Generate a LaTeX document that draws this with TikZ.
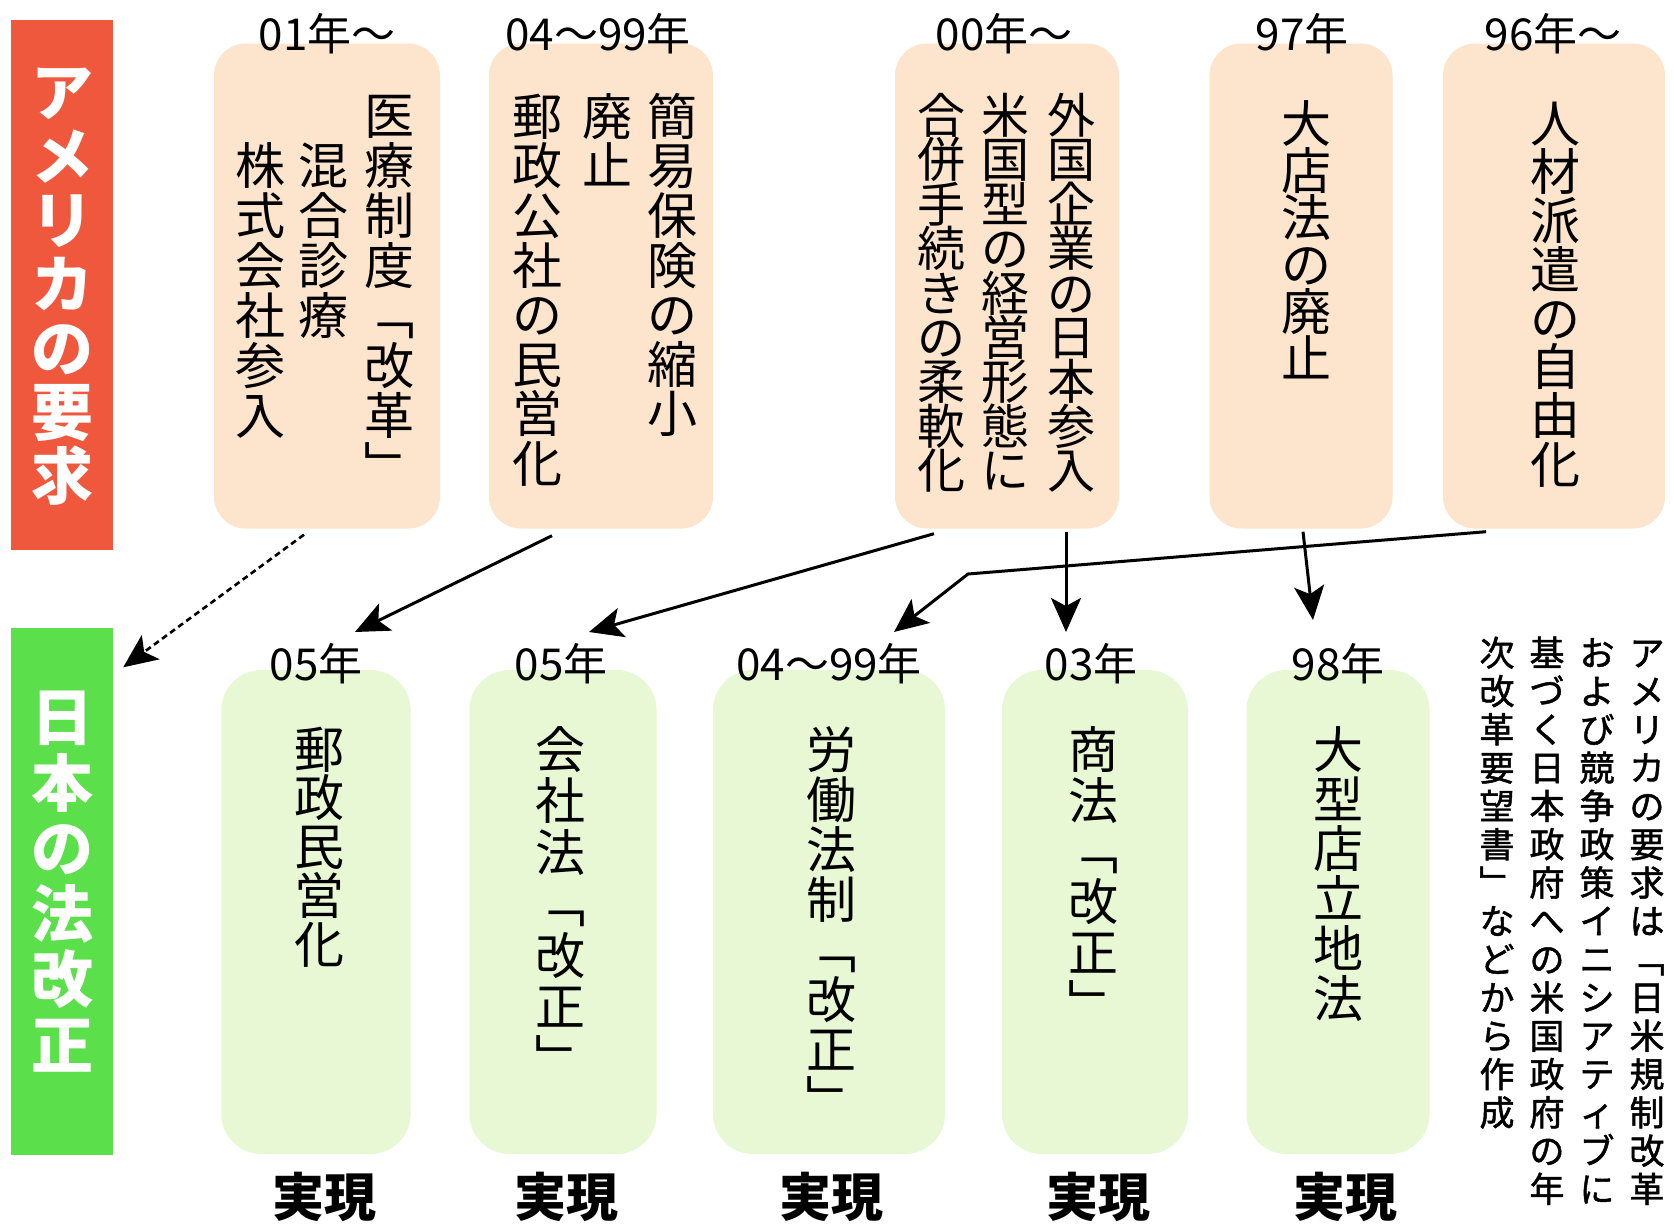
\documentclass[tikz,border=0pt]{standalone}
\usepackage{fontspec}
\newfontfamily\jp{Noto Sans CJK JP}
\newfontfamily\jpmed[RawFeature={embolden=1.3}]{Noto Sans CJK JP}
\usetikzlibrary{arrows.meta}
\definecolor{peach}{HTML}{FDE4CD}
\definecolor{lgreen}{HTML}{E8F8D5}
\definecolor{redbar}{HTML}{F0583E}
\definecolor{greenbar}{HTML}{5BE04B}
\newcommand\vch[1]{\hbox to 1em{\vrule height .88em depth .12em width 0pt\hss#1\hss}}
\ExplSyntaxOn
\NewDocumentCommand\vtxt{mm}{
  \vbox{\baselineskip=#1\lineskiplimit=-1000pt\lineskip=0pt
    \tl_map_function:nN{#2}\vch}}
\ExplSyntaxOff
\begin{document}
\begin{tikzpicture}[x=1pt,y=-1pt,
  ubox/.style={fill=peach, rounded corners=32pt, inner sep=0pt, minimum height=485pt},
  lbox/.style={fill=lgreen, rounded corners=40pt, inner sep=0pt, minimum height=484pt},
  yr/.style={inner sep=0pt, font=\jp\fontsize{44}{44}\selectfont},
  colt/.style={anchor=north, inner sep=0pt},
  bigtxt/.style={font=\jp\fontsize{50}{50}\selectfont},
  barbox/.style={inner sep=0pt, minimum width=102pt},
  bartext/.style={anchor=north, inner sep=0pt, text=white, font=\jp\bfseries\fontsize{62}{62}\selectfont},
  donetxt/.style={inner sep=0pt, font=\jp\bfseries\fontsize{52}{52}\selectfont},
  notecol/.style={anchor=north, inner sep=0pt, font=\jpmed\fontsize{35}{35}\selectfont},
  arr/.style={line width=3pt, -{Stealth[length=34pt,width=30pt,inset=8pt]}},
]
\useasboundingbox (0,0) rectangle (1674,1232);
\fill[white] (0,0) rectangle (1674,1232);

% side bars
\node[barbox, fill=redbar, minimum height=530pt] (rbar) at (62,285) {};
\node[bartext] (rtxt) at (62,61) {\vtxt{64pt}{アメリカの要求}};
\node[barbox, fill=greenbar, minimum height=527pt] (gbar) at (62,891) {};
\node[bartext] (gtxt) at (62,686) {\vtxt{65.5pt}{日本の法改正}};

% upper boxes
\node[ubox, minimum width=226pt] (u1) at (327,286) {};
\node[ubox, minimum width=224pt] (u2) at (601,286) {};
\node[ubox, minimum width=224pt] (u3) at (1007,286) {};
\node[ubox, minimum width=183pt] (u4) at (1301,286) {};
\node[ubox, minimum width=222pt] (u5) at (1554,286) {};

\node[yr] (t1) at (327,34) {01年～};
\node[yr] (t2) at (598,34) {04～99年};
\node[yr] (t3) at (1004,34) {00年～};
\node[yr] (t4) at (1302,34) {97年};
\node[yr] (t5) at (1553,34) {96年～};

\node[colt, bigtxt] (u1a) at (389,90) {\vtxt{50pt}{医療制度﹁改革﹂}};
\node[colt, bigtxt] (u1b) at (323,140) {\vtxt{50pt}{混合診療}};
\node[colt, bigtxt] (u1c) at (260,140) {\vtxt{50pt}{株式会社参入}};

\node[colt, bigtxt] (u2a) at (672,91) {\vtxt{49.6pt}{簡易保険の縮小}};
\node[colt, bigtxt] (u2b) at (607,91) {\vtxt{49.6pt}{廃止}};
\node[colt, bigtxt] (u2c) at (537,91) {\vtxt{49.6pt}{郵政公社の民営化}};

\node[colt, font=\jp\fontsize{48}{48}\selectfont] (u3a) at (1071,91) {\vtxt{44.4pt}{外国企業の日本参入}};
\node[colt, font=\jp\fontsize{48}{48}\selectfont] (u3b) at (1005,91) {\vtxt{44.4pt}{米国型の経営形態に}};
\node[colt, font=\jp\fontsize{48}{48}\selectfont] (u3c) at (941,91) {\vtxt{44.4pt}{合併手続きの柔軟化}};

\node[colt, bigtxt] (u4a) at (1306,98) {\vtxt{47pt}{大店法の廃止}};
\node[colt, bigtxt] (u5a) at (1555,98) {\vtxt{48.7pt}{人材派遣の自由化}};

% lower boxes
\node[lbox, minimum width=189pt] (l1) at (316,912) {};
\node[lbox, minimum width=187pt] (l2) at (563,912) {};
\node[lbox, minimum width=232pt] (l3) at (829,912) {};
\node[lbox, minimum width=186pt] (l4) at (1095,912) {};
\node[lbox, minimum width=183pt] (l5) at (1338,912) {};

\node[yr] (s1) at (316,664) {05年};
\node[yr] (s2) at (561,664) {05年};
\node[yr] (s3) at (829,664) {04～99年};
\node[yr] (s4) at (1091,664) {03年};
\node[yr] (s5) at (1338,664) {98年};

\node[colt, bigtxt] (l1a) at (319,724) {\vtxt{48.7pt}{郵政民営化}};
\node[colt, bigtxt] (l2a) at (560,724) {\vtxt{51.5pt}{会社法﹁改正﹂}};
\node[colt, bigtxt] (l3a) at (831,724) {\vtxt{50pt}{労働法制﹁改正﹂}};
\node[colt, bigtxt] (l4a) at (1093,724) {\vtxt{50.8pt}{商法﹁改正﹂}};
\node[colt, bigtxt] (l5a) at (1338,724) {\vtxt{49.8pt}{大型店立地法}};

\node[donetxt] (d1) at (324,1197) {実現};
\node[donetxt] (d2) at (566,1197) {実現};
\node[donetxt] (d3) at (831,1197) {実現};
\node[donetxt] (d4) at (1098,1197) {実現};
\node[donetxt] (d5) at (1345,1197) {実現};

% side note
\node[notecol] (n1) at (1647,635) {\vtxt{38.3pt}{アメリカの要求は﹁日米規制改革}};
\node[notecol] (n2) at (1597,635) {\vtxt{38.3pt}{および競争政策イニシアティブに}};
\node[notecol] (n3) at (1547,635) {\vtxt{38.3pt}{基づく日本政府への米国政府の年}};
\node[notecol] (n4) at (1497,635) {\vtxt{38.3pt}{次改革要望書﹂などから作成}};

% connectors
\draw[arr, line width=2.6pt, dash pattern=on 6pt off 4pt] ([xshift=-23pt,yshift=-6pt]u1.south) -- ([xshift=10pt,yshift=-40pt]gbar.north east);
\draw[arr] ([xshift=-49pt,yshift=-7pt]u2.south) -- ([xshift=39pt,yshift=32pt]s1.center);
\draw[arr] ([xshift=-73pt,yshift=-5pt]u3.south) -- ([xshift=28pt,yshift=32pt]s2.center);
\coordinate (k) at (968,574);
\draw[arr] ([xshift=-68pt,yshift=-3pt]u5.south) -- (k) -- ([xshift=65pt,yshift=32pt]s3.center);
\draw[arr] ([xshift=59pt,yshift=-3pt]u3.south) -- ([xshift=-25pt,yshift=32pt]s4.center);
\draw[arr] ([xshift=2pt,yshift=-3pt]u4.south) -- ([xshift=-25pt,yshift=44pt]s5.center);
\end{tikzpicture}
\end{document}
